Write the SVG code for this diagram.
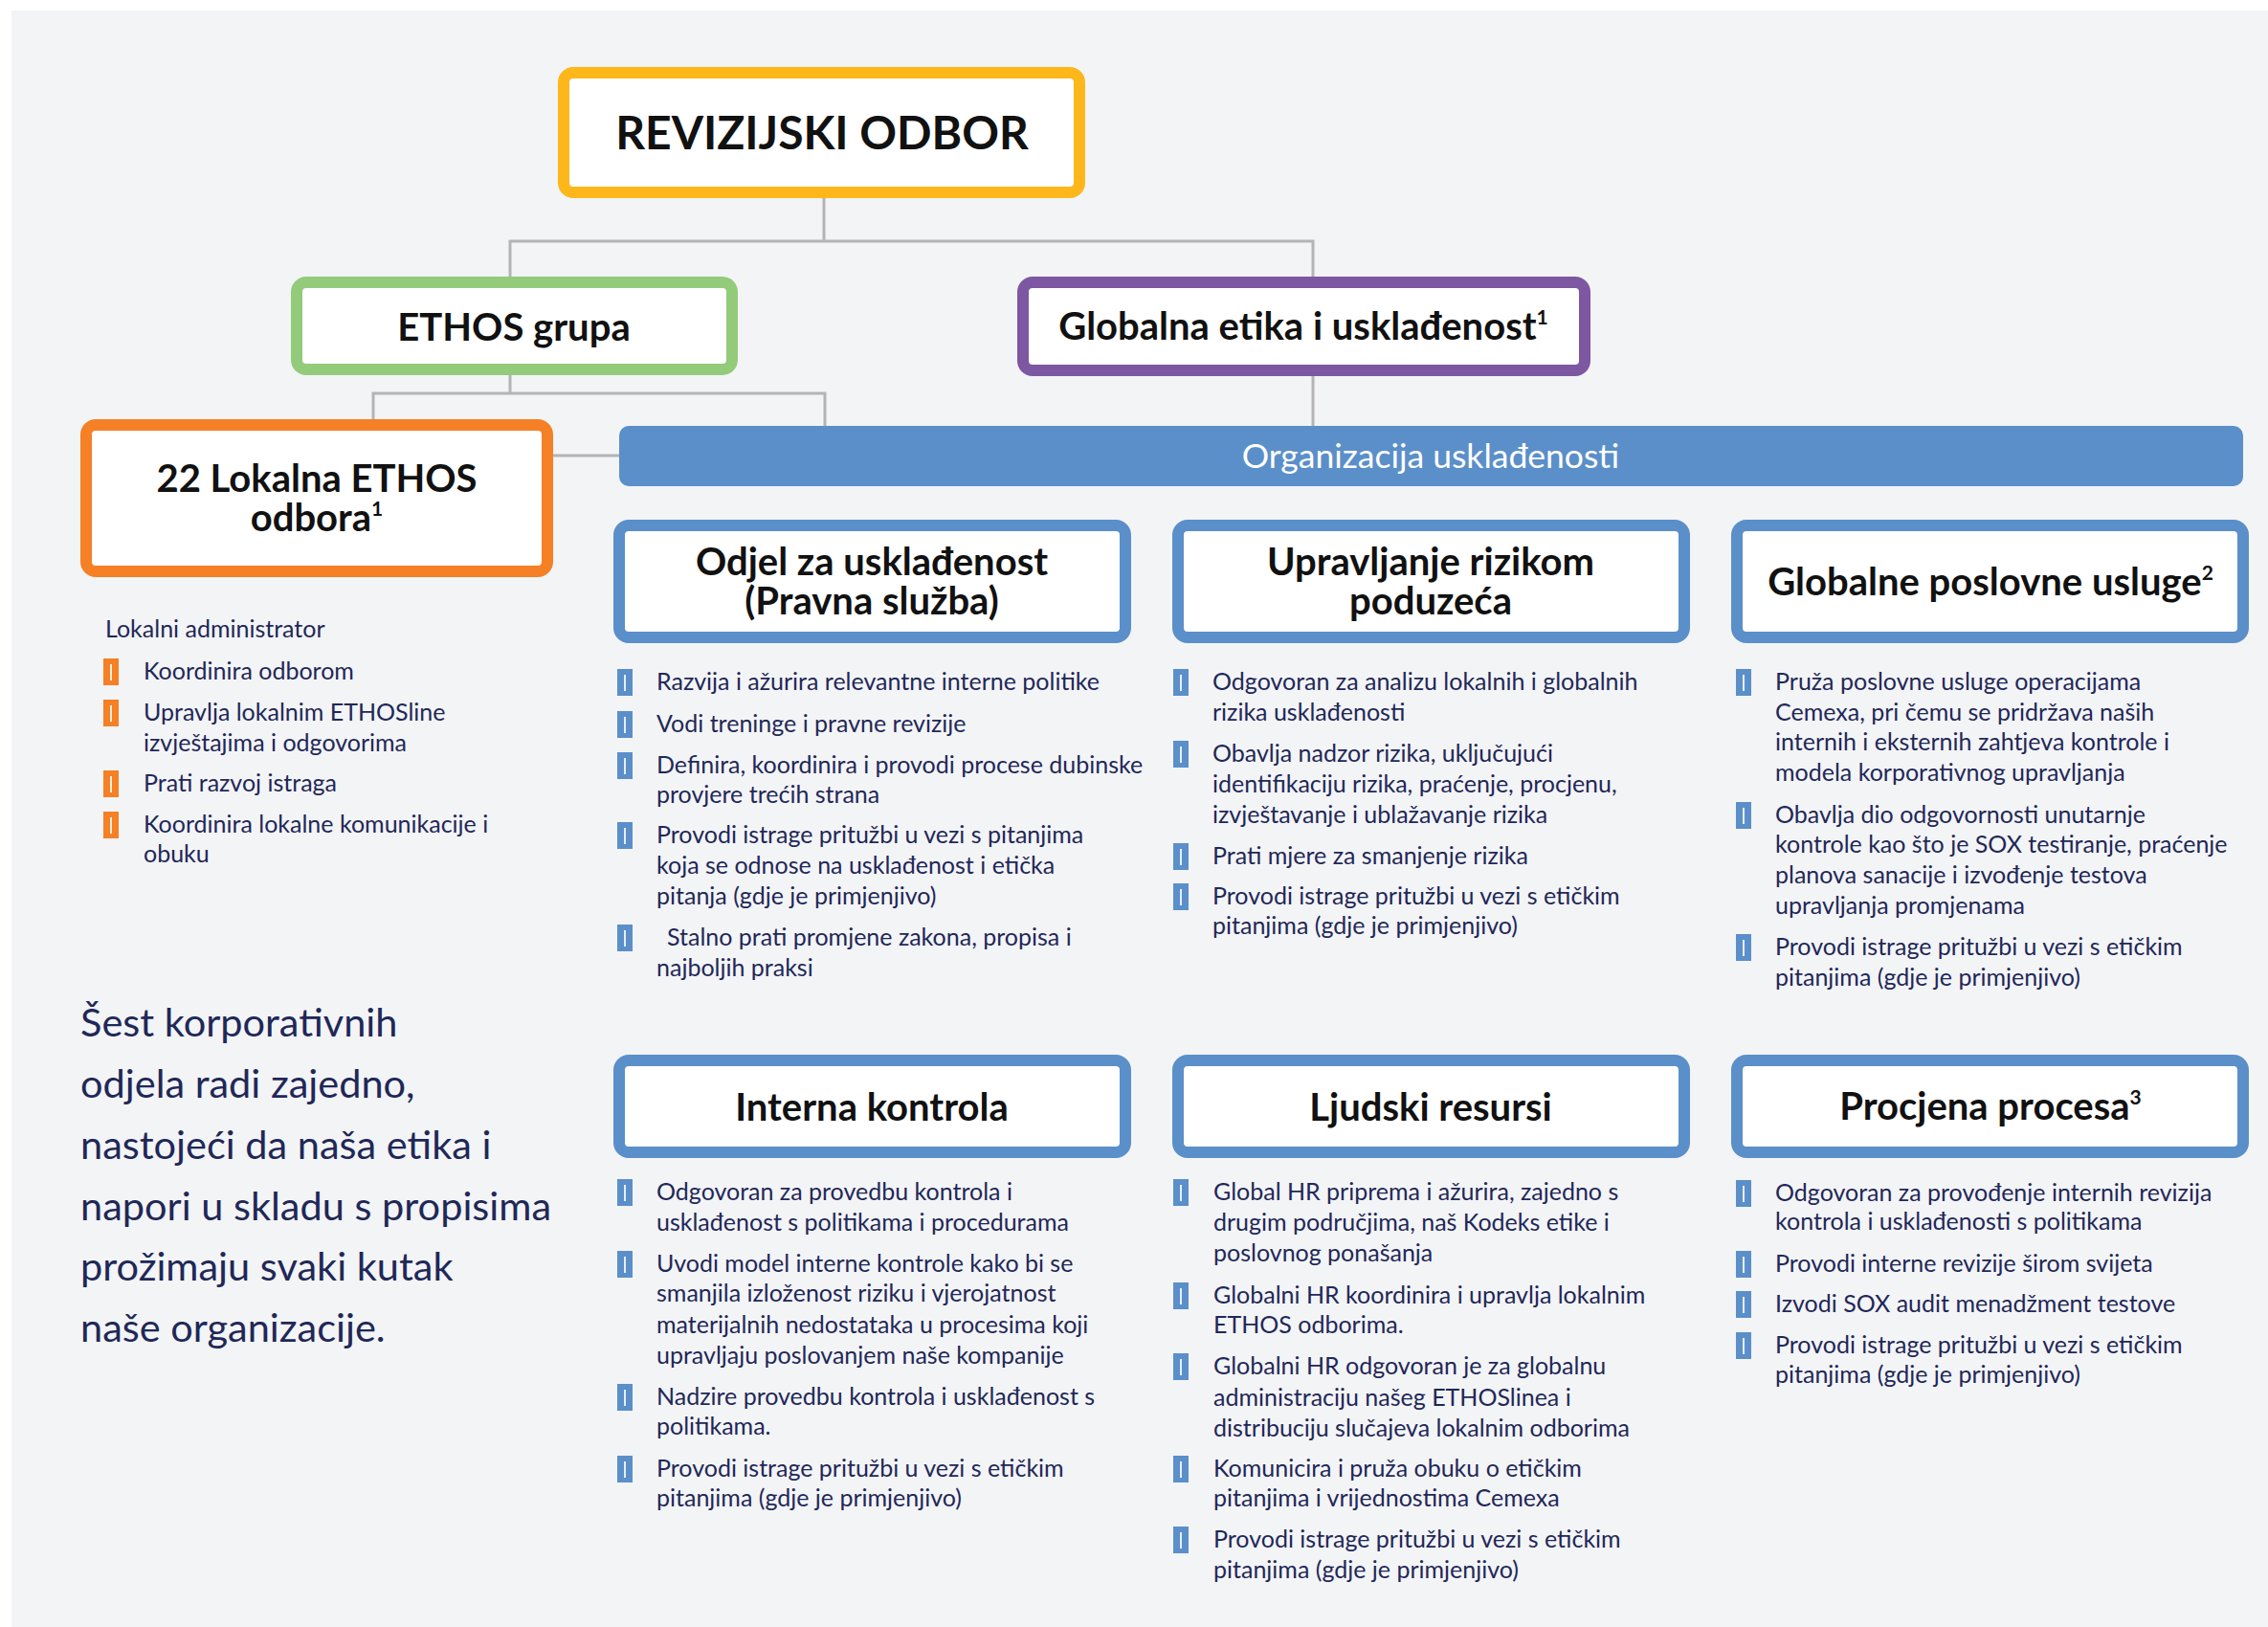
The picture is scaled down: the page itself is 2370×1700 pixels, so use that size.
<svg xmlns="http://www.w3.org/2000/svg" width="2370" height="1700" viewBox="0 0 2370 1700">
<defs>
<style>
.bg{fill:#f3f4f6}
.conn{stroke:#b4b4b4;stroke-width:3;fill:none}
.box{fill:#ffffff;stroke-width:12}
.yel{stroke:#fdb71a}
.grn{stroke:#93cb7b}
.pur{stroke:#7d57a2}
.org{stroke:#f58025}
.blu{stroke:#5b8fc9}
.t{font-family:Lato,"Open Sans",sans-serif;font-weight:700;font-size:40px;fill:#111111;text-anchor:middle}
.big{font-size:48px}
.b{font-family:Lato,"Open Sans",sans-serif;font-size:25px;fill:#1f2858}
.p{font-family:Lato,"Open Sans",sans-serif;font-size:41.5px;fill:#1f2858}
.bar{font-family:Lato,"Open Sans",sans-serif;font-size:35.5px;fill:#ffffff;text-anchor:middle}
.sup{font-size:21px}
</style>
<g id="bb"><rect x="0" y="-22" width="16" height="28" fill="#5b8fc9"/><rect x="7" y="-16" width="2" height="17" fill="#ffffff" opacity="0.85"/></g>
<g id="ob"><rect x="0" y="-22" width="16" height="28" fill="#f58025"/><rect x="7" y="-16" width="2" height="17" fill="#ffffff" opacity="0.85"/></g>
</defs>
<rect class="bg" x="12" y="11" width="2358" height="1689"/>

<g id="connectors">
<path class="conn" d="M861,207 V252"/>
<path class="conn" d="M533,289 V252 H1372 V289"/>
<path class="conn" d="M1372,393 V445"/>
<path class="conn" d="M533,392 V411"/>
<path class="conn" d="M390,438 V411 H862 V445"/>
<path class="conn" d="M578,476 H647"/>
</g>

<g id="revizijski-odbor">
<rect class="box yel" x="589" y="76" width="539" height="125" rx="10"/>
<text class="t big" x="859" y="156">REVIZIJSKI ODBOR</text>
</g>

<g id="ethos-grupa">
<rect class="box grn" x="310" y="295" width="455" height="91" rx="10"/>
<text class="t" x="537" y="356">ETHOS grupa</text>
</g>

<g id="globalna-etika">
<rect class="box pur" x="1069" y="295" width="587" height="92" rx="10"/>
<text class="t" x="1362" y="355">Globalna etika i usklađenost<tspan class="sup" dy="-16">1</tspan></text>
</g>

<g id="lokalna-ethos">
<rect class="box org" x="90" y="444" width="482" height="153" rx="10"/>
<text class="t" x="331" y="514">22 Lokalna ETHOS<tspan x="331" dy="41">odbora</tspan><tspan class="sup" dy="-16">1</tspan></text>
</g>

<g id="organizacija">
<rect x="647" y="445" width="1697" height="63" rx="10" fill="#5b8fc9"/>
<text class="bar" x="1495" y="489">Organizacija usklađenosti</text>
</g>

<g id="lokalni-admin">
<text class="b" x="110" y="666">Lokalni administrator</text>
<use href="#ob" x="108" y="710"/><text class="b" x="150" y="710">Koordinira odborom</text>
<use href="#ob" x="108" y="753"/><text class="b" x="150" y="753">Upravlja lokalnim ETHOSline</text>
<text class="b" x="150" y="785">izvještajima i odgovorima</text>
<use href="#ob" x="108" y="827"/><text class="b" x="150" y="827">Prati razvoj istraga</text>
<use href="#ob" x="108" y="870"/><text class="b" x="150" y="870">Koordinira lokalne komunikacije i</text>
<text class="b" x="150" y="901">obuku</text>
</g>

<g id="odjel">
<rect class="box blu" x="647" y="549" width="529" height="117" rx="10"/>
<text class="t" x="911" y="601">Odjel za usklađenost<tspan x="911" dy="41">(Pravna služba)</tspan></text>
<use href="#bb" x="645" y="721"/><text class="b" x="686" y="721">Razvija i ažurira relevantne interne politike</text>
<use href="#bb" x="645" y="765"/><text class="b" x="686" y="765">Vodi treninge i pravne revizije</text>
<use href="#bb" x="645" y="808"/><text class="b" x="686" y="808">Definira, koordinira i provodi procese dubinske</text>
<text class="b" x="686" y="839">provjere trećih strana</text>
<use href="#bb" x="645" y="881"/><text class="b" x="686" y="881">Provodi istrage pritužbi u vezi s pitanjima</text>
<text class="b" x="686" y="913">koja se odnose na usklađenost i etička</text>
<text class="b" x="686" y="945">pitanja (gdje je primjenjivo)</text>
<use href="#bb" x="645" y="988"/><text class="b" x="697" y="988">Stalno prati promjene zakona, propisa i</text>
<text class="b" x="686" y="1020">najboljih praksi</text>
</g>

<g id="upravljanje">
<rect class="box blu" x="1231" y="549" width="529" height="117" rx="10"/>
<text class="t" x="1495" y="601">Upravljanje rizikom<tspan x="1495" dy="41">poduzeća</tspan></text>
<use href="#bb" x="1226" y="721"/><text class="b" x="1267" y="721">Odgovoran za analizu lokalnih i globalnih</text>
<text class="b" x="1267" y="753">rizika usklađenosti</text>
<use href="#bb" x="1226" y="796"/><text class="b" x="1267" y="796">Obavlja nadzor rizika, uključujući</text>
<text class="b" x="1267" y="828">identifikaciju rizika, praćenje, procjenu,</text>
<text class="b" x="1267" y="860">izvještavanje i ublažavanje rizika</text>
<use href="#bb" x="1226" y="903"/><text class="b" x="1267" y="903">Prati mjere za smanjenje rizika</text>
<use href="#bb" x="1226" y="945"/><text class="b" x="1267" y="945">Provodi istrage pritužbi u vezi s etičkim</text>
<text class="b" x="1267" y="976">pitanjima (gdje je primjenjivo)</text>
</g>

<g id="globalne-usluge">
<rect class="box blu" x="1815" y="549" width="529" height="117" rx="10"/>
<text class="t" x="2080" y="622">Globalne poslovne usluge<tspan class="sup" dy="-16">2</tspan></text>
<use href="#bb" x="1814" y="721"/><text class="b" x="1855" y="721">Pruža poslovne usluge operacijama</text>
<text class="b" x="1855" y="753">Cemexa, pri čemu se pridržava naših</text>
<text class="b" x="1855" y="784">internih i eksternih zahtjeva kontrole i</text>
<text class="b" x="1855" y="816">modela korporativnog upravljanja</text>
<use href="#bb" x="1814" y="860"/><text class="b" x="1855" y="860">Obavlja dio odgovornosti unutarnje</text>
<text class="b" x="1855" y="891">kontrole kao što je SOX testiranje, praćenje</text>
<text class="b" x="1855" y="923">planova sanacije i izvođenje testova</text>
<text class="b" x="1855" y="955">upravljanja promjenama</text>
<use href="#bb" x="1814" y="998"/><text class="b" x="1855" y="998">Provodi istrage pritužbi u vezi s etičkim</text>
<text class="b" x="1855" y="1030">pitanjima (gdje je primjenjivo)</text>
</g>

<g id="interna-kontrola">
<rect class="box blu" x="647" y="1108" width="529" height="96" rx="10"/>
<text class="t" x="911" y="1171">Interna kontrola</text>
<use href="#bb" x="645" y="1254"/><text class="b" x="686" y="1254">Odgovoran za provedbu kontrola i</text>
<text class="b" x="686" y="1286">usklađenost s politikama i procedurama</text>
<use href="#bb" x="645" y="1329"/><text class="b" x="686" y="1329">Uvodi model interne kontrole kako bi se</text>
<text class="b" x="686" y="1360">smanjila izloženost riziku i vjerojatnost</text>
<text class="b" x="686" y="1393">materijalnih nedostataka u procesima koji</text>
<text class="b" x="686" y="1425">upravljaju poslovanjem naše kompanije</text>
<use href="#bb" x="645" y="1468"/><text class="b" x="686" y="1468">Nadzire provedbu kontrola i usklađenost s</text>
<text class="b" x="686" y="1499">politikama.</text>
<use href="#bb" x="645" y="1543"/><text class="b" x="686" y="1543">Provodi istrage pritužbi u vezi s etičkim</text>
<text class="b" x="686" y="1574">pitanjima (gdje je primjenjivo)</text>
</g>

<g id="ljudski-resursi">
<rect class="box blu" x="1231" y="1108" width="529" height="96" rx="10"/>
<text class="t" x="1495" y="1171">Ljudski resursi</text>
<use href="#bb" x="1226" y="1254"/><text class="b" x="1268" y="1254">Global HR priprema i ažurira, zajedno s</text>
<text class="b" x="1268" y="1286">drugim područjima, naš Kodeks etike i</text>
<text class="b" x="1268" y="1318">poslovnog ponašanja</text>
<use href="#bb" x="1226" y="1362"/><text class="b" x="1268" y="1362">Globalni HR koordinira i upravlja lokalnim</text>
<text class="b" x="1268" y="1393">ETHOS odborima.</text>
<use href="#bb" x="1226" y="1436"/><text class="b" x="1268" y="1436">Globalni HR odgovoran je za globalnu</text>
<text class="b" x="1268" y="1469">administraciju našeg ETHOSlinea i</text>
<text class="b" x="1268" y="1501">distribuciju slučajeva lokalnim odborima</text>
<use href="#bb" x="1226" y="1543"/><text class="b" x="1268" y="1543">Komunicira i pruža obuku o etičkim</text>
<text class="b" x="1268" y="1574">pitanjima i vrijednostima Cemexa</text>
<use href="#bb" x="1226" y="1617"/><text class="b" x="1268" y="1617">Provodi istrage pritužbi u vezi s etičkim</text>
<text class="b" x="1268" y="1649">pitanjima (gdje je primjenjivo)</text>
</g>

<g id="procjena-procesa">
<rect class="box blu" x="1815" y="1108" width="529" height="96" rx="10"/>
<text class="t" x="2080" y="1170">Procjena procesa<tspan class="sup" dy="-16">3</tspan></text>
<use href="#bb" x="1814" y="1255"/><text class="b" x="1855" y="1255">Odgovoran za provođenje internih revizija</text>
<text class="b" x="1855" y="1285">kontrola i usklađenosti s politikama</text>
<use href="#bb" x="1814" y="1329"/><text class="b" x="1855" y="1329">Provodi interne revizije širom svijeta</text>
<use href="#bb" x="1814" y="1371"/><text class="b" x="1855" y="1371">Izvodi SOX audit menadžment testove</text>
<use href="#bb" x="1814" y="1414"/><text class="b" x="1855" y="1414">Provodi istrage pritužbi u vezi s etičkim</text>
<text class="b" x="1855" y="1445">pitanjima (gdje je primjenjivo)</text>
</g>

<g id="paragraph">
<text class="p" x="84" y="1083">Šest korporativnih</text>
<text class="p" x="84" y="1147">odjela radi zajedno,</text>
<text class="p" x="84" y="1211">nastojeći da naša etika i</text>
<text class="p" x="84" y="1275">napori u skladu s propisima</text>
<text class="p" x="84" y="1338">prožimaju svaki kutak</text>
<text class="p" x="84" y="1402">naše organizacije.</text>
</g>
</svg>
